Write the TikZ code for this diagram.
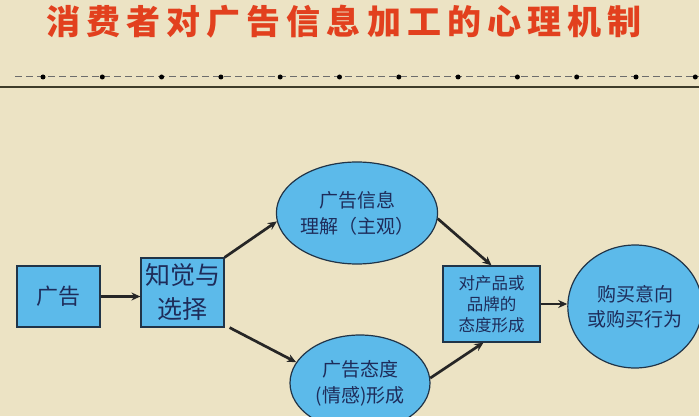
\documentclass[tikz,border=0pt]{standalone}
\usepackage{fontspec}
\setmainfont{Noto Sans CJK SC}
\usetikzlibrary{shapes.geometric,arrows.meta}
\definecolor{bg}{RGB}{236,227,196}
\definecolor{boxblue}{RGB}{92,186,234}
\definecolor{rim}{RGB}{32,52,72}
\definecolor{ink}{RGB}{30,44,90}
\definecolor{titlered}{RGB}{226,64,30}
\definecolor{rulecol}{RGB}{62,60,42}
\begin{document}
\begin{tikzpicture}[x=1pt,y=1pt,
	box/.style={draw=rim,line width=1.2pt,fill=boxblue,text=ink,inner sep=0pt,align=center},
	oval/.style={ellipse,draw=rim,line width=1.2pt,fill=boxblue,text=ink,inner sep=0pt,align=center},
	arr/.style={-{Stealth[length=9pt,width=8pt]},line width=2.7pt,black!85}]
	\def\dx{59.3} % khoảng cách các chấm
	\fill[bg] (0,0) rectangle (699,416);
	\clip (0,0) rectangle (699,416);
	% tiêu đề
	\node[text=titlered,font=\fontsize{34}{34}\selectfont\bfseries\addfontfeature{LetterSpace=18}] (title) at (344,394) {消费者对广告信息加工的心理机制};
	\draw[gray!85!black,line width=1pt,dash pattern=on 7pt off 4pt] (15,339) -- (699,339);
	\foreach \i in {0,...,11}
	\fill (43+\dx*\i,339) circle (2.5);
	\draw[rulecol,line width=2.5pt] (0,329) -- (699,329);
	% các khối
	\node[box,minimum width=83,minimum height=61,font=\fontsize{22}{26}\selectfont] (ad) at (58.5,119.5) {广告};
	\node[box,minimum width=83,minimum height=69,font=\fontsize{25}{34}\selectfont] (percep) at (182.5,123.5) {知觉与\\选择};
	\node[oval,minimum width=147,minimum height=102,font=\fontsize{19}{26}\selectfont] (underst) at (357,203) {广告信息\\理解（主观）};
	\node[oval,minimum width=140,minimum height=96,font=\fontsize{19}{26}\selectfont] (attit) at (360,33) {广告态度\\(情感)形成};
	\node[box,minimum width=97,minimum height=76,font=\fontsize{16.5}{21}\selectfont] (brand) at (491.5,112) {对产品或\\品牌的\\态度形成};
	\node[oval,minimum width=124,minimum height=123,font=\fontsize{19}{25}\selectfont] (buy) at (635,109.5) {购买意向\\或购买行为};
	% mũi tên
	\draw[arr] (ad.east) -- (percep.west |- ad.east);
	\draw[arr] (percep.north east) -- (underst.186);
	\draw[arr] ([xshift=5pt]percep.south east) -- (attit.162);
	\draw[arr] (underst.-4) -- (brand.north);
	\draw[arr] (attit.4) -- ([xshift=-8pt]brand.south);
	\draw[arr] (brand.east) -- (buy.west |- brand.east);
\end{tikzpicture}
\end{document}
